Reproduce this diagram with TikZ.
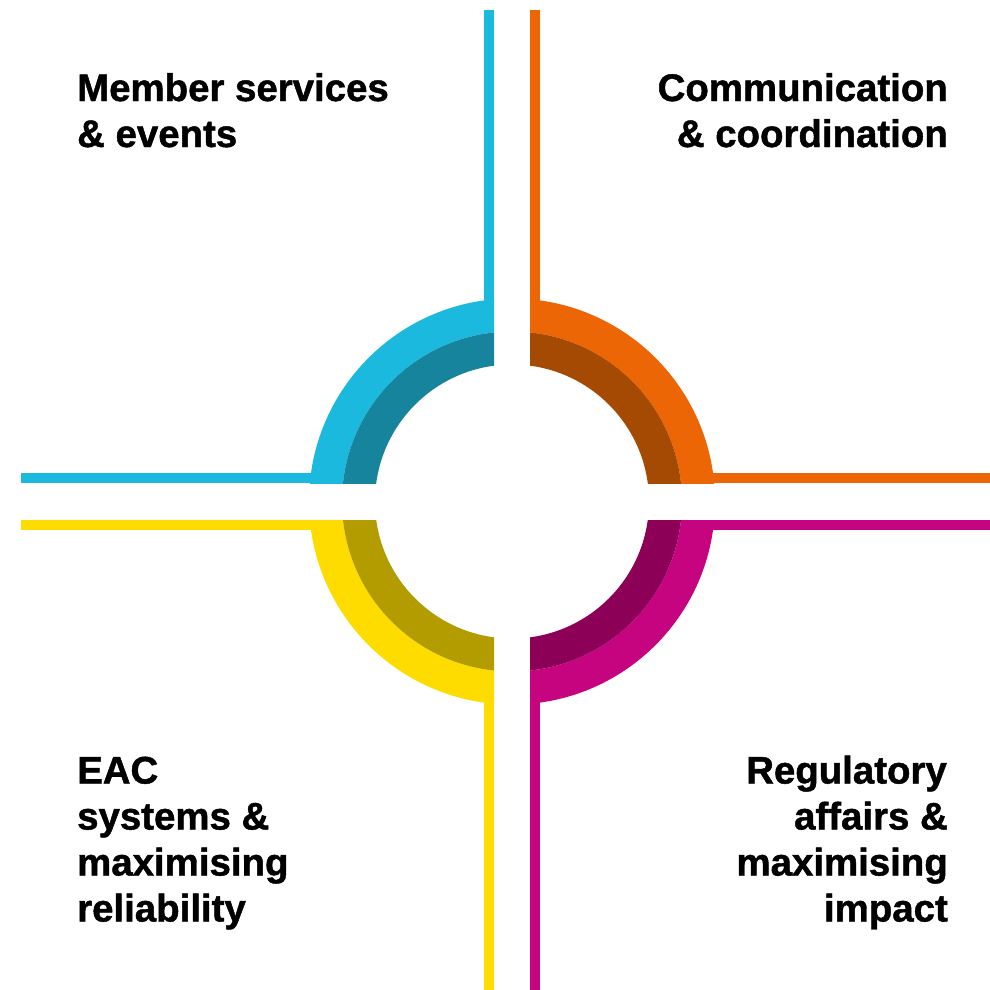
\documentclass[tikz,border=0pt]{standalone}
\usepackage{fontspec}
\setmainfont{Liberation Sans}[BoldFeatures={FakeBold=1.2}]
\definecolor{bluel}{HTML}{1CB9DF}
\definecolor{blued}{HTML}{15849C}
\definecolor{orangel}{HTML}{EC6605}
\definecolor{oranged}{HTML}{A54A03}
\definecolor{yellowl}{HTML}{FFDC00}
\definecolor{yellowd}{HTML}{B39C00}
\definecolor{magental}{HTML}{C6047F}
\definecolor{magentad}{HTML}{8C0058}
\tikzset{
  lbl/.style={inner sep=0pt, font=\bfseries\fontsize{38.4}{46}\selectfont, text=black},
  lblL/.style={lbl, anchor=base west},
  lblR/.style={lbl, anchor=base east},
}
\begin{document}
\begin{tikzpicture}[x=1pt,y=-1pt]
\useasboundingbox (0,0) rectangle (990,990);
\fill[white] (0,0) rectangle (990,990);
\coordinate (c) at (512,501.5);
% lines
\fill[bluel] (484,10.3) rectangle (494,330);
\fill[bluel] (21,473.3) rectangle (330,483);
\fill[orangel] (530,10.3) rectangle (540,330);
\fill[orangel] (694,473.3) rectangle (990,483);
\fill[yellowl] (21,520) rectangle (330,530);
\fill[yellowl] (484,673) rectangle (494,990);
\fill[magental] (694,520) rectangle (990,530);
\fill[magental] (530,673) rectangle (540,990);
% rings
\begin{scope}
  \clip (0,0) rectangle (494,483);
  \fill[bluel,even odd rule] (c) circle[radius=203pt] (c) circle[radius=170pt];
  \fill[blued,even odd rule] (c) circle[radius=170pt] (c) circle[radius=137pt];
\end{scope}
\begin{scope}
  \clip (530,0) rectangle (990,483);
  \fill[orangel,even odd rule] (c) circle[radius=203pt] (c) circle[radius=170pt];
  \fill[oranged,even odd rule] (c) circle[radius=170pt] (c) circle[radius=137pt];
\end{scope}
\begin{scope}
  \clip (0,520) rectangle (494,990);
  \fill[yellowl,even odd rule] (c) circle[radius=203pt] (c) circle[radius=170pt];
  \fill[yellowd,even odd rule] (c) circle[radius=170pt] (c) circle[radius=137pt];
\end{scope}
\begin{scope}
  \clip (530,520) rectangle (990,990);
  \fill[magental,even odd rule] (c) circle[radius=203pt] (c) circle[radius=170pt];
  \fill[magentad,even odd rule] (c) circle[radius=170pt] (c) circle[radius=137pt];
\end{scope}
% texts
\node[lblL] (tl1) at (77,101) {Member services};
\node[lblL] (tl2) at (77,147) {\& events};
\node[lblR] (tr1) at (948,101) {Communication};
\node[lblR] (tr2) at (948,147) {\& coordination};
\node[lblL] (bl1) at (77,783.5) {EAC};
\node[lblL] (bl2) at (77,829.5) {systems \&};
\node[lblL] (bl3) at (77,875.5) {maximising};
\node[lblL] (bl4) at (77,921.5) {reliability};
\node[lblR] (br1) at (947,783.5) {Regulatory};
\node[lblR] (br2) at (948,829.5) {affairs \&};
\node[lblR] (br3) at (948,875.5) {maximising};
\node[lblR] (br4) at (948,921.5) {impact};
\end{tikzpicture}
\end{document}
